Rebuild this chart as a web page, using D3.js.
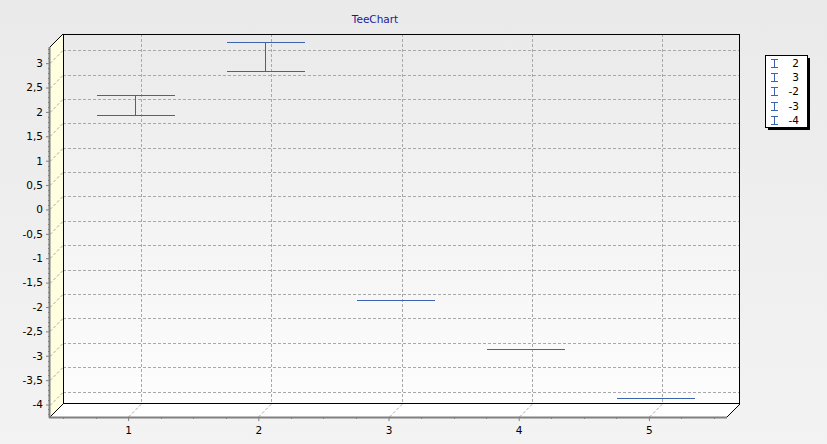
<!DOCTYPE html>
<html><head><meta charset="utf-8">
<script src="https://cdn.jsdelivr.net/npm/d3@7/dist/d3.min.js"></script>
<style>html,body{margin:0;padding:0;background:#ebebeb;}svg{display:block;}</style>
</head><body>
<svg id="c" width="827" height="444"></svg>
<script>
const categories = [1, 2, 3, 4, 5];
const values = [2, 3, -2, -3, -4];
const errors = [0.2, 0.3, 0, 0, 0];
const yTicks = [3, 2.5, 2, 1.5, 1, 0.5, 0, -0.5, -1, -1.5, -2, -2.5, -3, -3.5, -4];
const legendLabels = ["2", "3", "-2", "-3", "-4"];
const title = "TeeChart";

const W = 827, H = 444;
const D = 13; // 3D depth offset
const svg = d3.select("#c");
const defs = svg.append("defs");
const bgG = defs.append("linearGradient").attr("id","bg").attr("x1",0).attr("y1",0).attr("x2",0).attr("y2",1);
bgG.append("stop").attr("offset","0%").attr("stop-color","#eaeaea");
bgG.append("stop").attr("offset","100%").attr("stop-color","#f3f3f3");
const wallG = defs.append("linearGradient").attr("id","wall").attr("x1",0).attr("y1",0).attr("x2",0).attr("y2",1);
wallG.append("stop").attr("offset","0%").attr("stop-color","#eaeaea");
wallG.append("stop").attr("offset","100%").attr("stop-color","#fdfdfd");

svg.append("rect").attr("width",W).attr("height",H).attr("fill","url(#bg)");

// front scales
const x = d3.scaleLinear().domain([0.4, 5.6]).range([50, 727]);
const y = d3.scaleLinear().domain([-4.256, 3.331]).range([417, 47]);
const x0 = x.range()[0], x1 = x.range()[1];
const yb = y.range()[0], yt = y.range()[1];

// back wall
svg.append("rect").attr("x", x0 + D).attr("y", yt - D).attr("width", x1 - x0).attr("height", yb - yt)
  .attr("fill","url(#wall)");
// left wall
svg.append("path").attr("d", `M${x0},${yt} L${x0+D},${yt-D} L${x0+D},${yb-D} L${x0},${yb} Z`).attr("fill","#ffffe0");
// floor
svg.append("path").attr("d", `M${x0},${yb} L${x0+D},${yb-D} L${x1+D},${yb-D} L${x1},${yb} Z`).attr("fill","#ffffff");

const grid = svg.append("g").attr("stroke","#a8a8a8").attr("stroke-width",1).attr("stroke-dasharray","3,2").attr("fill","none");
yTicks.forEach(v => {
  const yy = Math.round(y(v)) + 0.5;
  grid.append("line").attr("x1", x0 + D).attr("x2", x1 + D).attr("y1", yy - D).attr("y2", yy - D);
  grid.append("line").attr("x1", x0).attr("x2", x0 + D).attr("y1", yy).attr("y2", yy - D);
});
categories.forEach(c => {
  const xx = Math.round(x(c)) + 0.5;
  grid.append("line").attr("x1", xx + D).attr("x2", xx + D).attr("y1", yt - D).attr("y2", yb - D);
  grid.append("line").attr("x1", xx).attr("x2", xx + D).attr("y1", yb).attr("y2", yb - D);
});

// outlines
const ol = svg.append("g").attr("stroke","#000").attr("stroke-width",1).attr("fill","none");
ol.append("rect").attr("x", x0 + D + 0.5).attr("y", yt - D + 0.5).attr("width", x1 - x0 - 1).attr("height", yb - yt - 1);
ol.append("line").attr("x1", x0).attr("y1", yt).attr("x2", x0 + D).attr("y2", yt - D);
ol.append("line").attr("x1", x0).attr("y1", yb).attr("x2", x0 + D).attr("y2", yb - D);
ol.append("line").attr("x1", x1).attr("y1", yb).attr("x2", x1 + D).attr("y2", yb - D);

// axes (front)
const yAxis = d3.axisLeft(y).tickValues(yTicks).tickSize(4).tickPadding(3)
  .tickFormat(d => String(d).replace(".", ","));
const ya = svg.append("g").attr("transform", `translate(${x0},0)`).call(yAxis);
ya.select(".domain").remove();
ya.selectAll("line").attr("stroke","#808080");
ya.selectAll("text").attr("font-family","DejaVu Sans, Verdana, sans-serif").attr("font-size","10.5px").attr("fill","#000");
const minorY = d3.range(-42, 34).map(i => i / 10).filter(v => Math.abs(v*2 - Math.round(v*2)) > 1e-6);
svg.append("g").selectAll("line").data(minorY).join("line")
  .attr("x1", x0 - 2).attr("x2", x0).attr("y1", d => Math.round(y(d)) + 0.5).attr("y2", d => Math.round(y(d)) + 0.5)
  .attr("stroke","#808080");

const xAxis = d3.axisBottom(x).tickValues(categories).tickSize(4).tickPadding(6).tickFormat(d3.format("d"));
const xa = svg.append("g").attr("transform", `translate(0,${yb})`).call(xAxis);
xa.select(".domain").remove();
xa.selectAll("line").attr("stroke","#808080");
xa.selectAll("text").attr("font-family","DejaVu Sans, Verdana, sans-serif").attr("font-size","10.5px").attr("fill","#000");
const minorX = d3.range(0.5, 5.6, 0.25).filter(v => Math.abs(v - Math.round(v)) > 1e-6);
svg.append("g").selectAll("line").data(minorX).join("line")
  .attr("x1", d => Math.round(x(d)) + 0.5).attr("x2", d => Math.round(x(d)) + 0.5).attr("y1", yb).attr("y2", yb + 2)
  .attr("stroke","#808080");

// thick front axis lines
svg.append("line").attr("x1", x0 - 0.5).attr("x2", x0 - 0.5).attr("y1", yt).attr("y2", yb + 1).attr("stroke","#808080").attr("stroke-width",2);
svg.append("line").attr("x1", x0 - 1).attr("x2", x1).attr("y1", yb + 0.5).attr("y2", yb + 0.5).attr("stroke","#808080").attr("stroke-width",2);

// error bars at mid depth
const off = D / 2;
const bw = Math.round((x(2) - x(1)) * 0.6);
const eb = svg.append("g").attr("stroke","#3d62b0").attr("stroke-width",1).attr("fill","none").attr("shape-rendering","crispEdges");
categories.forEach((c, i) => {
  const cx = Math.round(x(c) + off) + 0.5;
  const top = Math.floor(y(values[i] + errors[i]) - off) + 0.5;
  const bot = Math.floor(y(values[i] - errors[i]) - off) + 0.5;
  const xl = Math.round(cx - bw / 2), xr = Math.round(cx + bw / 2);
  eb.append("line").attr("x1", xl).attr("x2", xr).attr("y1", top).attr("y2", top);
  if (errors[i] > 0) {
    eb.append("line").attr("x1", xl).attr("x2", xr).attr("y1", bot).attr("y2", bot);
    eb.append("line").attr("x1", cx).attr("x2", cx).attr("y1", top).attr("y2", bot);
  }
});

// title
svg.append("text").attr("x", 375).attr("y", 23).attr("text-anchor","middle")
  .attr("font-family","DejaVu Sans, Verdana, sans-serif").attr("font-size","10.5px").attr("fill","#1a1a9a").text(title);

// legend
const lg = svg.append("g");
const lx = 765, ly = 55, lw = 42, lh = 72;
lg.append("rect").attr("x", lx + 3).attr("y", ly + 3).attr("width", lw).attr("height", lh).attr("fill","#000");
lg.append("rect").attr("x", lx + 0.5).attr("y", ly + 0.5).attr("width", lw).attr("height", lh).attr("fill","#fff").attr("stroke","#000");
legendLabels.forEach((t, i) => {
  const cy = ly + 8 + i * 14.2;
  const g = lg.append("g").attr("stroke","#3d62b0").attr("fill","none").attr("shape-rendering","crispEdges");
  const iy = Math.round(cy);
  g.append("line").attr("x1", 771).attr("x2", 778).attr("y1", iy - 3.5).attr("y2", iy - 3.5);
  g.append("line").attr("x1", 771).attr("x2", 778).attr("y1", iy + 4.5).attr("y2", iy + 4.5);
  g.append("line").attr("x1", 774.5).attr("x2", 774.5).attr("y1", iy - 3.5).attr("y2", iy + 4.5);
  lg.append("text").attr("x", 799).attr("y", cy + 4).attr("text-anchor","end")
    .attr("font-family","DejaVu Sans, Verdana, sans-serif").attr("font-size","10.5px").attr("fill","#000").text(t);
});
</script>
</body></html>
